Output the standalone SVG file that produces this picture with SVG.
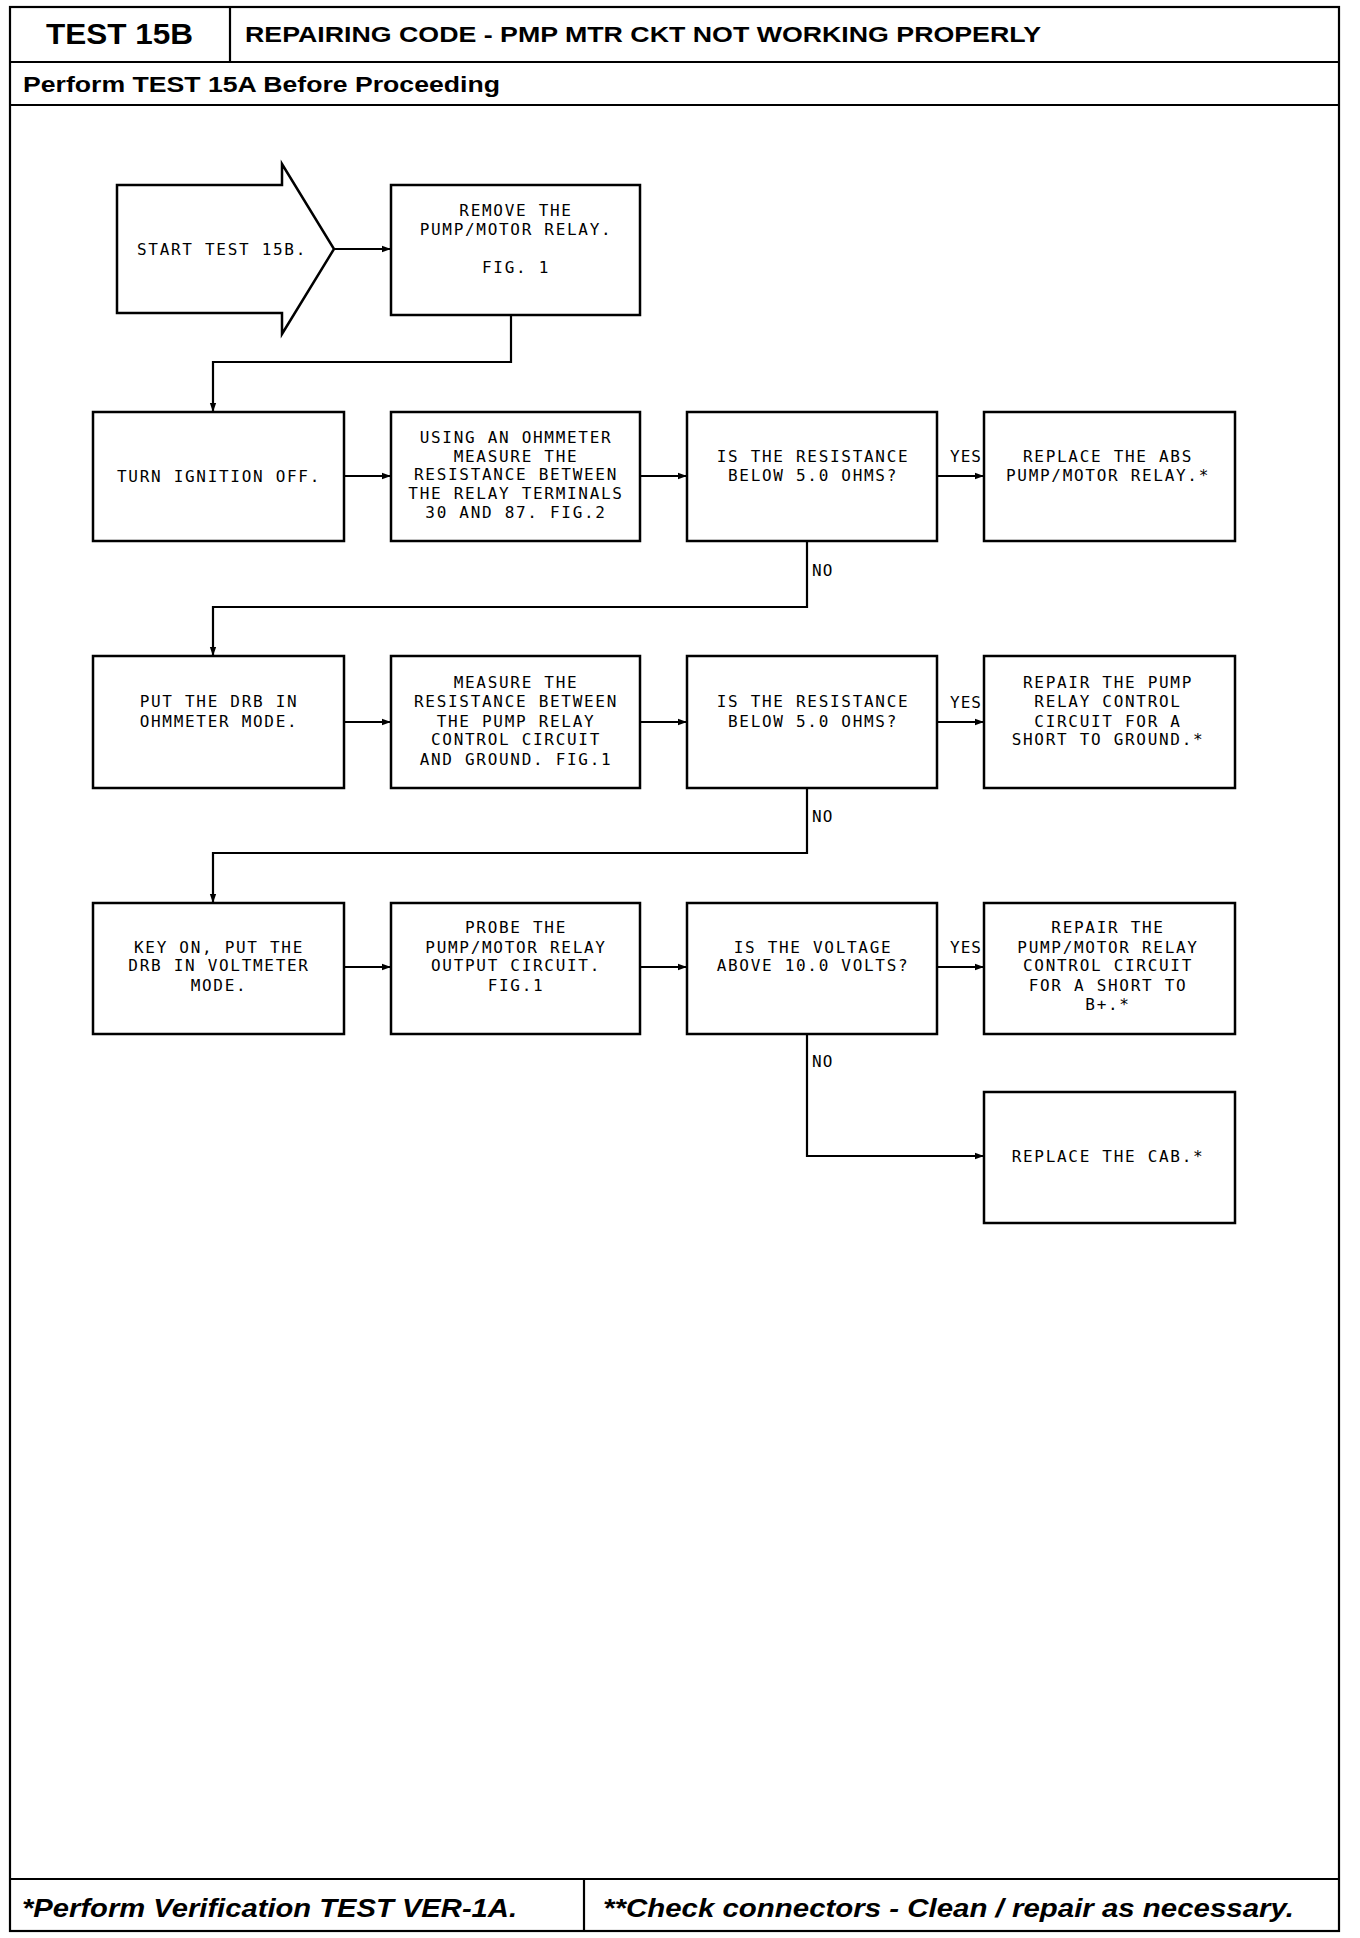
<svg xmlns="http://www.w3.org/2000/svg" width="1360" height="1938" viewBox="0 0 1360 1938">
<defs>
<marker id="ah" viewBox="0 0 10 10" refX="10" refY="5" markerWidth="9" markerHeight="9" markerUnits="userSpaceOnUse" orient="auto">
<path d="M0,1.5 L10,5 L0,8.5 Z" fill="#000"/>
</marker>
<style>
.frame{fill:none;stroke:#000;stroke-width:2.2}
.box{fill:#fff;stroke:#000;stroke-width:2.5}
.c{fill:none;stroke:#000;stroke-width:2.2}
.t{font-family:"DejaVu Sans Mono","Liberation Mono",monospace;font-size:16px;letter-spacing:1.7px;fill:#000;text-anchor:middle}
.lb{font-family:"DejaVu Sans Mono","Liberation Mono",monospace;font-size:16px;letter-spacing:1px;fill:#000}
.h{font-family:"Liberation Sans",Arial,sans-serif;font-weight:bold;fill:#000}
.f{font-family:"Liberation Sans",Arial,sans-serif;font-weight:bold;font-style:italic;font-size:25px;fill:#000}
</style>
</defs>
<rect width="1360" height="1938" fill="#fff"/>
<g id="frame">
<rect class="frame" x="10" y="7" width="1329" height="1924"/>
<line class="frame" x1="10" y1="62" x2="1339" y2="62"/>
<line class="frame" x1="230" y1="7" x2="230" y2="62"/>
<line class="frame" x1="10" y1="105" x2="1339" y2="105"/>
<line class="frame" x1="10" y1="1879" x2="1339" y2="1879"/>
<line class="frame" x1="584" y1="1879" x2="584" y2="1931"/>
<text class="h" x="46" y="44" font-size="29" textLength="147" lengthAdjust="spacingAndGlyphs">TEST 15B</text>
<text class="h" x="245" y="42" font-size="22" textLength="796" lengthAdjust="spacingAndGlyphs">REPAIRING CODE - PMP MTR CKT NOT WORKING PROPERLY</text>
<text class="h" x="23" y="92" font-size="22" textLength="477" lengthAdjust="spacingAndGlyphs">Perform TEST 15A Before Proceeding</text>
<text class="f" x="22" y="1917" textLength="495" lengthAdjust="spacingAndGlyphs">*Perform Verification TEST VER-1A.</text>
<text class="f" x="603" y="1917" textLength="691" lengthAdjust="spacingAndGlyphs">**Check connectors - Clean / repair as necessary.</text>
</g>
<g id="connectors">
<line class="c" x1="334" y1="249" x2="391" y2="249" marker-end="url(#ah)"/>
<polyline class="c" points="511,315 511,362 213,362 213,412" marker-end="url(#ah)"/>
<line class="c" x1="344" y1="476" x2="391" y2="476" marker-end="url(#ah)"/>
<line class="c" x1="640" y1="476" x2="687" y2="476" marker-end="url(#ah)"/>
<line class="c" x1="937" y1="476" x2="984" y2="476" marker-end="url(#ah)"/>
<polyline class="c" points="807,541 807,607 213,607 213,656" marker-end="url(#ah)"/>
<line class="c" x1="344" y1="722" x2="391" y2="722" marker-end="url(#ah)"/>
<line class="c" x1="640" y1="722" x2="687" y2="722" marker-end="url(#ah)"/>
<line class="c" x1="937" y1="722" x2="984" y2="722" marker-end="url(#ah)"/>
<polyline class="c" points="807,788 807,853 213,853 213,903" marker-end="url(#ah)"/>
<line class="c" x1="344" y1="967" x2="391" y2="967" marker-end="url(#ah)"/>
<line class="c" x1="640" y1="967" x2="687" y2="967" marker-end="url(#ah)"/>
<line class="c" x1="937" y1="967" x2="984" y2="967" marker-end="url(#ah)"/>
<polyline class="c" points="807,1034 807,1156 984,1156" marker-end="url(#ah)"/>
<text class="lb" x="950" y="462">YES</text>
<text class="lb" x="950" y="708">YES</text>
<text class="lb" x="950" y="953">YES</text>
<text class="lb" x="812" y="576">NO</text>
<text class="lb" x="812" y="822">NO</text>
<text class="lb" x="812" y="1067">NO</text>
</g>
<g id="start">
<polygon class="box" points="117,185 282,185 282,164 334,249 282,334 282,313 117,313"/>
<text class="t" x="222" y="255">START TEST 15B.</text>
</g>
<g id="remove-relay">
<rect class="box" x="391" y="185" width="249" height="130"/>
<text class="t" x="516" y="216">REMOVE THE</text>
<text class="t" x="516" y="235">PUMP/MOTOR RELAY.</text>
<text class="t" x="516" y="273">FIG. 1</text>
</g>
<g id="ignition-off">
<rect class="box" x="93" y="412" width="251" height="129"/>
<text class="t" x="219" y="482">TURN IGNITION OFF.</text>
</g>
<g id="measure-30-87">
<rect class="box" x="391" y="412" width="249" height="129"/>
<text class="t" x="516" y="443">USING AN OHMMETER</text>
<text class="t" x="516" y="462">MEASURE THE</text>
<text class="t" x="516" y="480">RESISTANCE BETWEEN</text>
<text class="t" x="516" y="499">THE RELAY TERMINALS</text>
<text class="t" x="516" y="518">30 AND 87. FIG.2</text>
</g>
<g id="q-resistance-1">
<rect class="box" x="687" y="412" width="250" height="129"/>
<text class="t" x="813" y="462">IS THE RESISTANCE</text>
<text class="t" x="813" y="481">BELOW 5.0 OHMS?</text>
</g>
<g id="replace-relay">
<rect class="box" x="984" y="412" width="251" height="129"/>
<text class="t" x="1108" y="462">REPLACE THE ABS</text>
<text class="t" x="1108" y="481">PUMP/MOTOR RELAY.*</text>
</g>
<g id="drb-ohm">
<rect class="box" x="93" y="656" width="251" height="132"/>
<text class="t" x="219" y="707">PUT THE DRB IN</text>
<text class="t" x="219" y="727">OHMMETER MODE.</text>
</g>
<g id="measure-control">
<rect class="box" x="391" y="656" width="249" height="132"/>
<text class="t" x="516" y="688">MEASURE THE</text>
<text class="t" x="516" y="707">RESISTANCE BETWEEN</text>
<text class="t" x="516" y="727">THE PUMP RELAY</text>
<text class="t" x="516" y="745">CONTROL CIRCUIT</text>
<text class="t" x="516" y="765">AND GROUND. FIG.1</text>
</g>
<g id="q-resistance-2">
<rect class="box" x="687" y="656" width="250" height="132"/>
<text class="t" x="813" y="707">IS THE RESISTANCE</text>
<text class="t" x="813" y="727">BELOW 5.0 OHMS?</text>
</g>
<g id="repair-ground">
<rect class="box" x="984" y="656" width="251" height="132"/>
<text class="t" x="1108" y="688">REPAIR THE PUMP</text>
<text class="t" x="1108" y="707">RELAY CONTROL</text>
<text class="t" x="1108" y="727">CIRCUIT FOR A</text>
<text class="t" x="1108" y="745">SHORT TO GROUND.*</text>
</g>
<g id="drb-volt">
<rect class="box" x="93" y="903" width="251" height="131"/>
<text class="t" x="219" y="953">KEY ON, PUT THE</text>
<text class="t" x="219" y="971">DRB IN VOLTMETER</text>
<text class="t" x="219" y="991">MODE.</text>
</g>
<g id="probe-output">
<rect class="box" x="391" y="903" width="249" height="131"/>
<text class="t" x="516" y="933">PROBE THE</text>
<text class="t" x="516" y="953">PUMP/MOTOR RELAY</text>
<text class="t" x="516" y="971">OUTPUT CIRCUIT.</text>
<text class="t" x="516" y="991">FIG.1</text>
</g>
<g id="q-voltage">
<rect class="box" x="687" y="903" width="250" height="131"/>
<text class="t" x="813" y="953">IS THE VOLTAGE</text>
<text class="t" x="813" y="971">ABOVE 10.0 VOLTS?</text>
</g>
<g id="repair-bplus">
<rect class="box" x="984" y="903" width="251" height="131"/>
<text class="t" x="1108" y="933">REPAIR THE</text>
<text class="t" x="1108" y="953">PUMP/MOTOR RELAY</text>
<text class="t" x="1108" y="971">CONTROL CIRCUIT</text>
<text class="t" x="1108" y="991">FOR A SHORT TO</text>
<text class="t" x="1108" y="1010">B+.*</text>
</g>
<g id="replace-cab">
<rect class="box" x="984" y="1092" width="251" height="131"/>
<text class="t" x="1108" y="1162">REPLACE THE CAB.*</text>
</g>
</svg>
